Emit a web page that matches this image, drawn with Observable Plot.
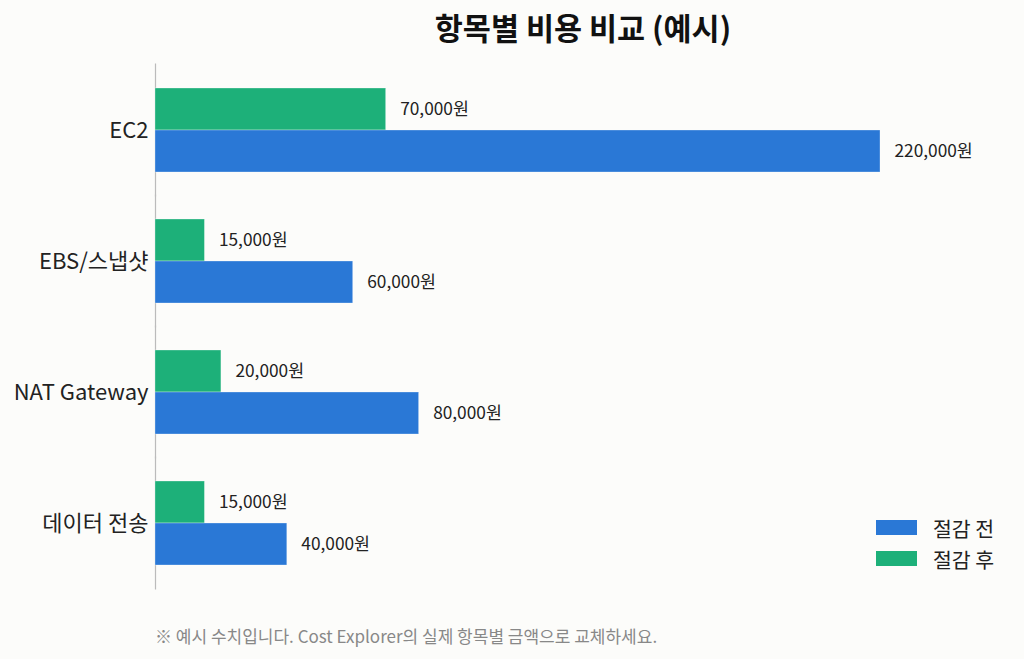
<!DOCTYPE html>
<html><head><meta charset="utf-8">
<script src="https://cdn.jsdelivr.net/npm/d3@7"></script>
<script src="https://cdn.jsdelivr.net/npm/@observablehq/plot@0.6"></script>
<style>
html,body{margin:0;padding:0;background:#fcfcfa;}
body{width:1024px;height:659px;position:relative;overflow:hidden;font-family:"Noto Sans CJK KR","Noto Sans",sans-serif;}
#title{height:52px;line-height:54px;box-sizing:border-box;padding-left:142px;text-align:center;font-size:30.5px;font-weight:bold;color:#111;}
#caption{position:absolute;left:155px;top:623px;font-size:17px;color:#888;}
#legend{position:absolute;left:876px;top:512px;font-size:20.5px;color:#222;}
.item{display:flex;align-items:center;height:31px;}
.sw{width:41px;height:15px;margin-right:16px;}
</style></head>
<body>
<div id="title">항목별 비용 비교 (예시)</div>
<div id="chart"></div>
<div id="legend"></div>
<div id="caption">※ 예시 수치입니다. Cost Explorer의 실제 항목별 금액으로 교체하세요.</div>
<script>
const categories = ["EC2", "EBS/스냅샷", "NAT Gateway", "데이터 전송"];
const before = [220000, 60000, 80000, 40000];
const after = [70000, 15000, 20000, 15000];
const seriesNames = ["절감 후", "절감 전"];
const seriesColors = ["#1db079", "#2a78d6"];

const rows = [];
categories.forEach((c, i) => {
  rows.push({category: c, series: seriesNames[0], value: after[i]});
  rows.push({category: c, series: seriesNames[1], value: before[i]});
});
const fmt = v => d3.format(",")(v) + "원";

const chart = Plot.plot({
  width: 1024,
  height: 560,
  marginTop: 11,
  marginBottom: 22,
  marginLeft: 155,
  marginRight: 144,
  style: {background: "transparent", fontFamily: "'Noto Sans CJK KR', 'Noto Sans', sans-serif"},
  x: {axis: null},
  y: {axis: null, domain: seriesNames, padding: 0},
  fy: {domain: categories, paddingInner: 0.36, paddingOuter: 0.19, label: null},
  color: {domain: seriesNames, range: seriesColors},
  marks: [
    Plot.axisFy({anchor: "left", tickSize: 0, tickPadding: 7, fontSize: 22, fill: "#222", label: null}),
    Plot.ruleX([0], {stroke: "#bbb", strokeWidth: 1.2, insetTop: -24.5, insetBottom: -24.5}),
    Plot.barX(rows, {fy: "category", y: "series", x: "value", fill: "series", stroke: "#fff", strokeWidth: 0.6, strokeOpacity: 0.5}),
    Plot.text(rows, {fy: "category", y: "series", x: "value", text: d => fmt(d.value), dx: 14, textAnchor: "start", fontSize: 17.3, fill: "#222"})
  ]
});
document.getElementById("chart").appendChild(chart);

const legend = document.getElementById("legend");
[[seriesNames[1], seriesColors[1]], [seriesNames[0], seriesColors[0]]].forEach(([n, c]) => {
  const it = document.createElement("div");
  it.className = "item";
  it.innerHTML = `<div class="sw" style="background:${c}"></div><span>${n}</span>`;
  legend.appendChild(it);
});
</script>
</body></html>
